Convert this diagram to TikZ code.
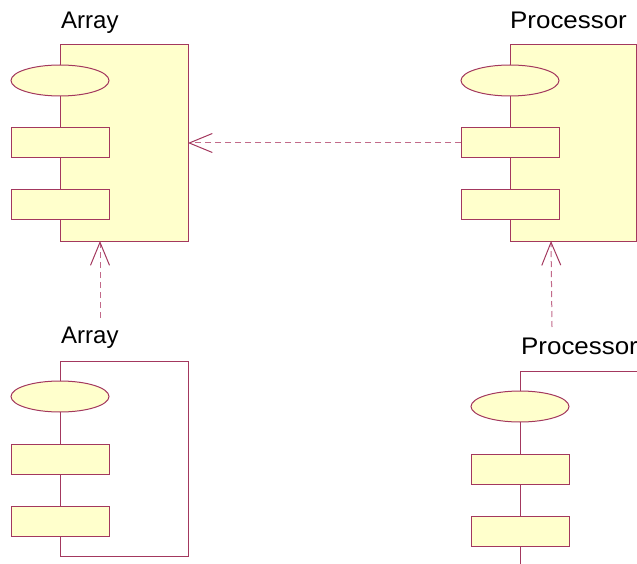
\documentclass[tikz,border=0pt]{standalone}
\usepackage{fontspec}
\setmainfont{Liberation Sans}
\usetikzlibrary{arrows.meta,shapes.geometric}
\definecolor{umlline}{HTML}{A3385E}
\definecolor{umldash}{HTML}{C26A8A}
\definecolor{umlfill}{HTML}{FFFFCC}
\tikzset{
  compbox/.style={draw=umlline, line width=1pt, inner sep=0pt, outer sep=0pt, anchor=north west},
  filledbox/.style={compbox, fill=umlfill},
  emptybox/.style={compbox, fill=white},
  portrect/.style={draw=umlline, line width=1pt, fill=umlfill, inner sep=0pt, outer sep=0pt,
    minimum width=98pt, minimum height=30pt, anchor=north west},
  portoval/.style={draw=umlline, line width=1pt, fill=umlfill, ellipse, inner sep=0pt, outer sep=0pt,
    minimum width=98pt, minimum height=31pt},
  lbl/.style={font=\fontsize{24}{28}\selectfont, inner sep=0pt, anchor=base west},
  dep/.style={draw=umldash, line width=1pt, dash pattern=on 6pt off 4pt,
    -{Straight Barb[length=23pt,width=19pt,line width=1pt,umlline]}},
}
\begin{document}
\begin{tikzpicture}[x=1pt,y=-1pt]
\useasboundingbox (0,0) rectangle (637,564);
% top-left Array
\node[lbl] (lA1) at (61,29) {Array};
\node[filledbox, minimum width=128pt, minimum height=196pt] (A1) at (60,45) {};
\node[portoval] (A1o) at (60,80.5) {};
\node[portrect] (A1r1) at (11,128) {};
\node[portrect] (A1r2) at (11,190) {};
% top-right Processor
\node[lbl] (lP1) at (510,29) {\scalebox{1.08}[1]{Processor}};
\node[filledbox, minimum width=126pt, minimum height=196pt] (P1) at (510,45) {};
\node[portoval] (P1o) at (510,80.5) {};
\node[portrect] (P1r1) at (461,128) {};
\node[portrect] (P1r2) at (461,190) {};
% bottom-left Array
\node[lbl] (lA2) at (61,343) {Array};
\node[emptybox, minimum width=128pt, minimum height=195pt] (A2) at (60,361) {};
\node[portoval] (A2o) at (60,396.5) {};
\node[portrect] (A2r1) at (11,444) {};
\node[portrect] (A2r2) at (11,506) {};
% bottom-right Processor
\node[lbl] (lP2) at (521,354) {\scalebox{1.08}[1]{Processor}};
\node[emptybox, minimum width=130pt, minimum height=200pt] (P2) at (520,371) {};
\node[portoval] (P2o) at (520,406.5) {};
\node[portrect] (P2r1) at (471,454) {};
\node[portrect] (P2r2) at (471,516) {};
% dependencies
\coordinate (tA) at (100,318);
\coordinate (hA) at (100,241);
\coordinate (tP) at (552,327);
\coordinate (hP) at (551,241);
\draw[dep] (P1r1.west) -- (A1.east);
\draw[dep] (tA) -- (hA);
\draw[dep] (tP) -- (hP);
\end{tikzpicture}
\end{document}
